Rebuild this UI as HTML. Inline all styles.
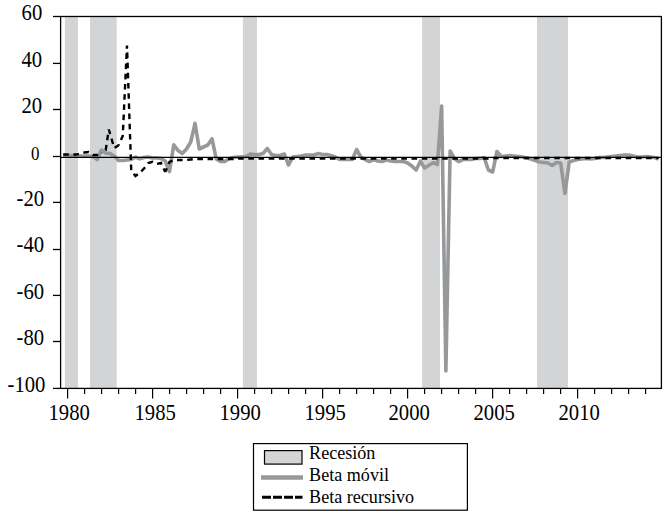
<!DOCTYPE html>
<html><head><meta charset="utf-8"><title>Beta</title>
<style>html,body{margin:0;padding:0;background:#fff;}svg{display:block;}
text{font-family:"Liberation Serif",serif;fill:#000;}</style></head>
<body><svg width="667" height="513" viewBox="0 0 667 513">
<rect x="0" y="0" width="667" height="513" fill="#fff"/>
<rect x="64.9" y="17.1" width="13.1" height="370.7" fill="#d3d4d6"/>
<rect x="90.0" y="17.1" width="26.7" height="370.7" fill="#d3d4d6"/>
<rect x="242.9" y="17.1" width="14.1" height="370.7" fill="#d3d4d6"/>
<rect x="422.1" y="17.1" width="17.9" height="370.7" fill="#d3d4d6"/>
<rect x="537.0" y="17.1" width="31.0" height="370.7" fill="#d3d4d6"/>
<polyline points="63.20,155.50 67.45,155.50 71.70,155.50 75.96,156.00 80.21,156.00 84.46,156.00 88.71,156.00 92.96,156.50 97.22,159.50 101.47,150.00 105.72,153.00 109.97,153.50 114.22,156.00 118.48,160.50 122.73,160.50 126.98,160.00 131.23,159.50 135.48,157.00 139.74,158.80 143.99,157.50 148.24,157.00 152.49,158.00 156.74,158.00 161.00,158.50 165.25,161.00 169.50,171.50 173.75,144.80 178.00,150.50 182.26,153.50 186.51,149.00 190.76,142.00 195.01,123.30 199.26,149.00 203.52,147.00 207.77,145.00 212.02,138.80 216.27,159.00 220.52,161.50 224.78,161.50 229.03,158.50 233.28,157.50 237.53,157.00 241.78,157.00 246.04,156.50 250.29,154.00 254.54,154.50 258.79,154.50 263.04,153.50 267.30,148.50 271.55,154.50 275.80,155.50 280.05,155.50 284.30,154.00 288.56,165.00 292.81,157.00 297.06,156.50 301.31,156.00 305.56,155.00 309.82,155.00 314.07,155.00 318.32,153.50 322.57,154.50 326.82,154.50 331.08,155.50 335.33,157.00 339.58,159.50 343.83,159.50 348.08,159.50 352.34,159.50 356.59,149.50 360.84,157.00 365.09,159.50 369.34,161.50 373.60,159.50 377.85,161.00 382.10,161.50 386.35,160.00 390.60,161.00 394.86,161.50 399.11,161.50 403.36,161.50 407.61,163.00 411.86,166.00 416.12,170.00 420.37,161.20 424.62,168.00 428.87,165.20 433.12,162.70 437.38,164.50 441.63,106.00 445.88,371.00 450.13,151.00 454.38,158.50 458.64,161.50 462.89,159.50 467.14,159.50 471.39,159.50 475.64,158.50 479.90,158.50 484.15,157.50 488.40,170.00 492.65,172.00 496.90,151.50 501.16,156.50 505.41,156.00 509.66,155.50 513.91,156.00 518.16,156.50 522.42,157.00 526.67,158.00 530.92,159.00 535.17,160.50 539.42,162.00 543.68,162.50 547.93,163.00 552.18,165.50 556.43,162.50 560.68,163.00 564.94,193.50 569.19,162.00 573.44,160.50 577.69,159.50 581.94,159.00 586.20,158.50 590.45,159.00 594.70,158.50 598.95,157.50 603.20,157.50 607.46,157.00 611.71,156.50 615.96,156.00 620.21,155.50 624.46,155.00 628.72,155.00 632.97,156.00 637.22,157.00 641.47,157.00 645.72,156.50 649.98,157.00 654.23,157.50 658.48,159.00" fill="none" stroke="#97989a" stroke-width="3.6" stroke-linejoin="round" stroke-linecap="butt"/>
<polyline points="63.20,154.50 67.45,154.50 71.70,154.50 75.96,154.50 80.21,154.00 84.46,152.50 88.71,152.00 92.96,155.00 97.22,155.00 101.47,153.00" fill="none" stroke="#000" stroke-width="2.4" stroke-dasharray="5.6 4.6" stroke-dashoffset="0.00" stroke-linejoin="miter"/>
<polyline points="101.47,153.00 105.72,150.00 108.80,129.50 114.22,148.00 118.48,145.50" fill="none" stroke="#000" stroke-width="2.4" stroke-dasharray="5.6 4.6" stroke-dashoffset="5.37" stroke-linejoin="miter"/>
<polyline points="118.48,145.50 122.73,136.00 126.98,45.50 131.23,170.50 135.48,176.00 139.74,173.00 143.99,168.50 148.24,163.00 152.49,161.80 156.74,164.00 161.00,163.00 165.25,172.00" fill="none" stroke="#000" stroke-width="2.4" stroke-dasharray="5.6 4.6" stroke-dashoffset="4.29" stroke-linejoin="miter"/>
<polyline points="165.25,172.00 169.50,162.00 173.75,160.00 178.00,160.00 182.26,160.00 186.51,160.00 190.76,159.50 195.01,159.00 199.26,159.00 203.52,159.00 207.77,159.00 212.02,159.00 216.27,159.00 220.52,159.00 224.78,159.00 229.03,159.00 233.28,159.00 237.53,158.50 241.78,158.50 246.04,158.50 250.29,158.50 254.54,158.50 258.79,158.50 263.04,158.50 267.30,158.50 271.55,158.50 275.80,158.50 280.05,158.50 284.30,158.50 288.56,158.50 292.81,158.50 297.06,158.50 301.31,158.50 305.56,158.50 309.82,158.50 314.07,158.50 318.32,158.50 322.57,158.50 326.82,158.50 331.08,158.50 335.33,158.50 339.58,158.50 343.83,158.50 348.08,158.50 352.34,158.50 356.59,158.50 360.84,158.50 365.09,158.50 369.34,158.50 373.60,158.50 377.85,158.50 382.10,158.50 386.35,158.50 390.60,158.50 394.86,158.50 399.11,158.50 403.36,158.50 407.61,158.50 411.86,158.50 416.12,158.50 420.37,158.50 424.62,158.50 428.87,158.50 433.12,158.50 437.38,158.50 441.63,158.50 445.88,158.50 450.13,158.50 454.38,158.50 458.64,158.50 462.89,158.50 467.14,158.50 471.39,158.50 475.64,158.50 479.90,158.50 484.15,158.50 488.40,158.50 492.65,158.00 496.90,158.00 501.16,158.00 505.41,158.00 509.66,158.00 513.91,158.00 518.16,158.00 522.42,158.00 526.67,158.00 530.92,158.00 535.17,158.00 539.42,158.00 543.68,158.00 547.93,158.00 552.18,158.00 556.43,158.00 560.68,158.00 564.94,158.00 569.19,158.00 573.44,158.00 577.69,158.00 581.94,158.00 586.20,158.00 590.45,158.00 594.70,158.00 598.95,158.00 603.20,158.00 607.46,158.00 611.71,158.00 615.96,158.00 620.21,158.00 624.46,158.00 628.72,158.00 632.97,158.00 637.22,158.00 641.47,158.00 645.72,158.00 649.98,158.00 654.23,158.00 658.48,158.00" fill="none" stroke="#000" stroke-width="2.4" stroke-dasharray="5.6 4.6" stroke-dashoffset="1.59" stroke-linejoin="miter"/>
<line x1="60.6" y1="157.4" x2="661.4" y2="157.4" stroke="#000" stroke-width="1.2"/>
<rect x="60.6" y="16.5" width="600.8" height="371.9" fill="none" stroke="#000" stroke-width="1.3"/>
<line x1="53" y1="16.5" x2="60.6" y2="16.5" stroke="#000" stroke-width="1.3"/>
<line x1="53" y1="63.4" x2="60.6" y2="63.4" stroke="#000" stroke-width="1.3"/>
<line x1="53" y1="109.5" x2="60.6" y2="109.5" stroke="#000" stroke-width="1.3"/>
<line x1="53" y1="156.5" x2="60.6" y2="156.5" stroke="#000" stroke-width="1.3"/>
<line x1="53" y1="202.4" x2="60.6" y2="202.4" stroke="#000" stroke-width="1.3"/>
<line x1="53" y1="249.5" x2="60.6" y2="249.5" stroke="#000" stroke-width="1.3"/>
<line x1="53" y1="295.4" x2="60.6" y2="295.4" stroke="#000" stroke-width="1.3"/>
<line x1="53" y1="341.5" x2="60.6" y2="341.5" stroke="#000" stroke-width="1.3"/>
<line x1="53" y1="388.4" x2="60.6" y2="388.4" stroke="#000" stroke-width="1.3"/>
<line x1="67.60" y1="388.4" x2="67.60" y2="398.4" stroke="#000" stroke-width="1.2"/>
<line x1="84.60" y1="388.4" x2="84.60" y2="393.9" stroke="#000" stroke-width="1.2"/>
<line x1="101.60" y1="388.4" x2="101.60" y2="393.9" stroke="#000" stroke-width="1.2"/>
<line x1="118.60" y1="388.4" x2="118.60" y2="393.9" stroke="#000" stroke-width="1.2"/>
<line x1="135.60" y1="388.4" x2="135.60" y2="393.9" stroke="#000" stroke-width="1.2"/>
<line x1="152.60" y1="388.4" x2="152.60" y2="398.4" stroke="#000" stroke-width="1.2"/>
<line x1="169.60" y1="388.4" x2="169.60" y2="393.9" stroke="#000" stroke-width="1.2"/>
<line x1="186.60" y1="388.4" x2="186.60" y2="393.9" stroke="#000" stroke-width="1.2"/>
<line x1="203.60" y1="388.4" x2="203.60" y2="393.9" stroke="#000" stroke-width="1.2"/>
<line x1="220.60" y1="388.4" x2="220.60" y2="393.9" stroke="#000" stroke-width="1.2"/>
<line x1="237.60" y1="388.4" x2="237.60" y2="398.4" stroke="#000" stroke-width="1.2"/>
<line x1="254.60" y1="388.4" x2="254.60" y2="393.9" stroke="#000" stroke-width="1.2"/>
<line x1="271.60" y1="388.4" x2="271.60" y2="393.9" stroke="#000" stroke-width="1.2"/>
<line x1="288.60" y1="388.4" x2="288.60" y2="393.9" stroke="#000" stroke-width="1.2"/>
<line x1="305.60" y1="388.4" x2="305.60" y2="393.9" stroke="#000" stroke-width="1.2"/>
<line x1="322.60" y1="388.4" x2="322.60" y2="398.4" stroke="#000" stroke-width="1.2"/>
<line x1="339.60" y1="388.4" x2="339.60" y2="393.9" stroke="#000" stroke-width="1.2"/>
<line x1="356.60" y1="388.4" x2="356.60" y2="393.9" stroke="#000" stroke-width="1.2"/>
<line x1="373.60" y1="388.4" x2="373.60" y2="393.9" stroke="#000" stroke-width="1.2"/>
<line x1="390.60" y1="388.4" x2="390.60" y2="393.9" stroke="#000" stroke-width="1.2"/>
<line x1="407.60" y1="388.4" x2="407.60" y2="398.4" stroke="#000" stroke-width="1.2"/>
<line x1="424.60" y1="388.4" x2="424.60" y2="393.9" stroke="#000" stroke-width="1.2"/>
<line x1="441.60" y1="388.4" x2="441.60" y2="393.9" stroke="#000" stroke-width="1.2"/>
<line x1="458.60" y1="388.4" x2="458.60" y2="393.9" stroke="#000" stroke-width="1.2"/>
<line x1="475.60" y1="388.4" x2="475.60" y2="393.9" stroke="#000" stroke-width="1.2"/>
<line x1="492.60" y1="388.4" x2="492.60" y2="398.4" stroke="#000" stroke-width="1.2"/>
<line x1="509.60" y1="388.4" x2="509.60" y2="393.9" stroke="#000" stroke-width="1.2"/>
<line x1="526.60" y1="388.4" x2="526.60" y2="393.9" stroke="#000" stroke-width="1.2"/>
<line x1="543.60" y1="388.4" x2="543.60" y2="393.9" stroke="#000" stroke-width="1.2"/>
<line x1="560.60" y1="388.4" x2="560.60" y2="393.9" stroke="#000" stroke-width="1.2"/>
<line x1="577.60" y1="388.4" x2="577.60" y2="398.4" stroke="#000" stroke-width="1.2"/>
<line x1="594.60" y1="388.4" x2="594.60" y2="393.9" stroke="#000" stroke-width="1.2"/>
<line x1="611.60" y1="388.4" x2="611.60" y2="393.9" stroke="#000" stroke-width="1.2"/>
<line x1="628.60" y1="388.4" x2="628.60" y2="393.9" stroke="#000" stroke-width="1.2"/>
<line x1="645.60" y1="388.4" x2="645.60" y2="393.9" stroke="#000" stroke-width="1.2"/>
<g transform="translate(21.60,20.00) scale(0.940,1.050)"><text x="0" y="0" font-size="22">60</text></g>
<g transform="translate(21.50,67.00) scale(0.940,1.050)"><text x="0" y="0" font-size="22">40</text></g>
<g transform="translate(21.50,113.00) scale(0.940,1.050)"><text x="0" y="0" font-size="22">20</text></g>
<g transform="translate(31.00,159.50) scale(0.940,1.050)"><text x="0" y="0" font-size="18">0</text></g>
<g transform="translate(16.60,206.00) scale(0.940,1.050)"><text x="0" y="0" font-size="22">-20</text></g>
<g transform="translate(16.60,252.00) scale(0.940,1.050)"><text x="0" y="0" font-size="22">-40</text></g>
<g transform="translate(16.60,299.00) scale(0.940,1.050)"><text x="0" y="0" font-size="22">-60</text></g>
<g transform="translate(16.60,345.00) scale(0.940,1.050)"><text x="0" y="0" font-size="22">-80</text></g>
<g transform="translate(7.50,392.00) scale(0.940,1.050)"><text x="0" y="0" font-size="22">-100</text></g>
<g transform="translate(48.50,420.00) scale(0.940,1.050)"><text x="0" y="0" font-size="22">1980</text></g>
<g transform="translate(134.50,420.00) scale(0.940,1.050)"><text x="0" y="0" font-size="22">1985</text></g>
<g transform="translate(219.50,420.00) scale(0.940,1.050)"><text x="0" y="0" font-size="22">1990</text></g>
<g transform="translate(304.50,420.00) scale(0.940,1.050)"><text x="0" y="0" font-size="22">1995</text></g>
<g transform="translate(388.50,420.00) scale(0.940,1.050)"><text x="0" y="0" font-size="22">2000</text></g>
<g transform="translate(473.50,420.00) scale(0.940,1.050)"><text x="0" y="0" font-size="22">2005</text></g>
<g transform="translate(558.50,420.00) scale(0.940,1.050)"><text x="0" y="0" font-size="22">2010</text></g>
<rect x="253.5" y="443.6" width="213.9" height="66.6" fill="#fff" stroke="#000" stroke-width="1.2"/>
<rect x="264.5" y="450.6" width="37.5" height="13.5" fill="#d3d4d6" stroke="#000" stroke-width="1.2"/>
<line x1="261" y1="477.5" x2="303" y2="477.5" stroke="#97989a" stroke-width="4.4"/>
<line x1="262" y1="497.3" x2="302.5" y2="497.3" stroke="#000" stroke-width="3" stroke-dasharray="9 2"/>
<text x="309.1" y="458.8" font-size="18.1">Recesión</text>
<text x="309.1" y="480.6" font-size="18.1">Beta móvil</text>
<text x="309.1" y="502.9" font-size="18.1">Beta recursivo</text>
</svg></body></html>
